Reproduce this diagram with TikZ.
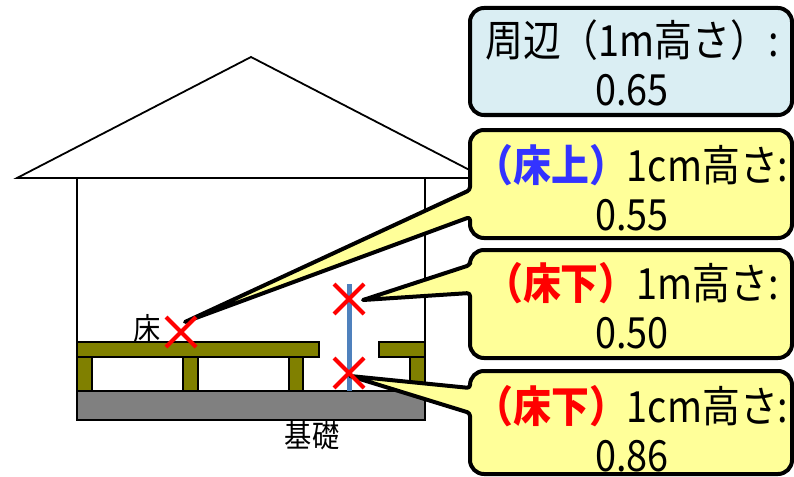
\documentclass[tikz,border=0pt]{standalone}
\usepackage{fontspec}
\newfontfamily\jp[FakeStretch=0.88]{Noto Sans CJK JP}
\definecolor{woodc}{HTML}{808000}
\definecolor{basec}{HTML}{808080}
\definecolor{postc}{HTML}{4F81BD}
\definecolor{notey}{HTML}{FFFF99}
\definecolor{noteb}{HTML}{DAEEF3}
\definecolor{upblue}{HTML}{3333FF}
\begin{document}
\begin{tikzpicture}[x=1pt,y=-1pt,
  house/.style={draw=black,line width=1.8},
  wood/.style={draw=black,line width=1.8,fill=woodc},
  balloon/.style={draw=black,line width=4,line join=round},
  notetext/.style={font=\jp\fontsize{43}{49}\selectfont,align=center,inner sep=0pt},
  lbl/.style={font=\jp\fontsize{31}{32}\selectfont,inner sep=0pt},
  xmark/.style={draw=red,line width=4}]
\useasboundingbox (0,0) rectangle (794,476);

% roof and walls
\draw[house] (17,178) -- (251,57) -- (485,178) -- cycle;
\draw[house] (77,178) -- (77,420) (425,178) -- (425,420);

% foundation
\draw[house,fill=basec] (77,391) rectangle (425,420);

% floor legs and boards
\foreach \a/\b in {77/92,183/198,289/303,410/425}
  \draw[wood] (\a,357) rectangle (\b,391);
\draw[wood] (77,342) rectangle (319,357);
\draw[wood] (379,342) rectangle (425,357);

% measuring post under the floor
\draw[postc,line width=5] (349,284) -- (349,391);

% measurement points
\coordinate (m1) at (181,332);
\coordinate (m2) at (349,299);
\coordinate (m3) at (349,373);
\coordinate (p1) at (185,322);
\coordinate (p2) at (363,300);
\coordinate (p3) at (350,376);

% labels
\node[lbl] (floorlbl) at (147,329) {床};
\node[lbl] (baselbl) at (312,436) {基礎};

% surroundings box
\draw[balloon,fill=noteb,rounded corners=14]
  (630,8) -- (792,8) -- (792,115) -- (470,115) -- (470,8) -- cycle;

% callout: above the floor
\draw[balloon,fill=notey]
  (630,130) [rounded corners=14] -- (792,130) -- (792,238) -- (470,238)
  [rounded corners=3] -- (470,217) [sharp corners] -- (p1)
  [rounded corners=3] -- (470,190) [rounded corners=14] -- (470,130) -- cycle;

% callout: under the floor, 1 m
\draw[balloon,fill=notey]
  (630,250) [rounded corners=14] -- (792,250) -- (792,358) -- (470,358)
  [rounded corners=3] -- (470,293) [sharp corners] -- (p2)
  [rounded corners=3] -- (470,265) [rounded corners=14] -- (470,250) -- cycle;

% callout: under the floor, 1 cm
\draw[balloon,fill=notey]
  (630,371) [rounded corners=14] -- (792,371) -- (792,474) -- (470,474)
  [rounded corners=3] -- (470,413) [sharp corners] -- (p3)
  [rounded corners=3] -- (470,388) [rounded corners=14] -- (470,371) -- cycle;

% texts
\node[notetext] (t1) at (632,63) {周辺（1m高さ）:\\0.65};
\node[notetext] (t2) at (632,188) {{\bfseries\color{upblue}（床上）}1cm高さ:\\0.55};
\node[notetext] (t3) at (632,306) {{\bfseries\color{red}（床下）}1m高さ:\\0.50};
\node[notetext] (t4) at (632,429) {{\bfseries\color{red}（床下）}1cm高さ:\\0.86};

% cross marks
\foreach \c in {m1,m2,m3}
  \draw[xmark,shift={(\c)}] (-15,-15) -- (15,15) (-15,15) -- (15,-15);
\end{tikzpicture}
\end{document}
